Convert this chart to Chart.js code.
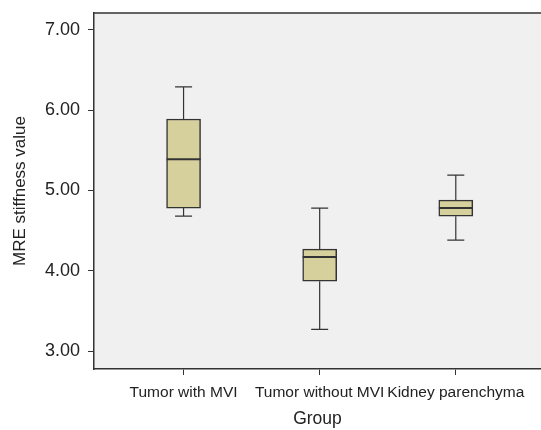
<!DOCTYPE html>
<html>
<head>
<meta charset="utf-8">
<script src="https://cdn.jsdelivr.net/npm/chart.js@4"></script>
<style>
  html, body { margin: 0; padding: 0; background: #fff; overflow: hidden; }
</style>
</head>
<body>
<canvas id="boxChart" width="541" height="430"></canvas>
<script>
// box plot values
var groups = ["Tumor with MVI", "Tumor without MVI", "Kidney parenchyma"];
var positions = [1, 2, 3];
var mins = [4.68, 3.27, 4.38];
var q1s = [4.78, 3.87, 4.68];
var medians = [5.39, 4.17, 4.78];
var q3s = [5.89, 4.27, 4.88];
var maxs = [6.29, 4.78, 5.19];
var yTicks = [3, 4, 5, 6, 7];

var lineColor = "#333333";
var fontFamily = "'Liberation Sans', Arial, sans-serif";

// plot background + top border
var frame = {
  id: "frame",
  beforeDraw: function(chart) {
    var a = chart.chartArea, c = chart.ctx;
    c.save();
    c.fillStyle = "#f0f0f0";
    c.fillRect(a.left, a.top, a.right - a.left, a.bottom - a.top);
    c.restore();
  },
  afterDraw: function(chart) {
    var a = chart.chartArea, c = chart.ctx;
    c.save();
    c.strokeStyle = lineColor;
    c.lineWidth = 1.5;
    c.beginPath();
    c.moveTo(a.left, a.top);
    c.lineTo(a.right, a.top);
    c.stroke();
    c.restore();
  }
};

// whiskers and medians
var whiskers = {
  id: "whiskers",
  afterDatasetsDraw: function(chart) {
    var xs = chart.scales.x, ys = chart.scales.y, c = chart.ctx;
    c.save();
    c.strokeStyle = lineColor;
    for (var i = 0; i < groups.length; i++) {
      var x = xs.getPixelForValue(positions[i]);
      var capHalf = 8.5, boxHalf = 17;
      c.lineWidth = 1.2;
      c.beginPath();
      c.moveTo(x, ys.getPixelForValue(q3s[i]));
      c.lineTo(x, ys.getPixelForValue(maxs[i]));
      c.moveTo(x, ys.getPixelForValue(q1s[i]));
      c.lineTo(x, ys.getPixelForValue(mins[i]));
      c.moveTo(x - capHalf, ys.getPixelForValue(maxs[i]));
      c.lineTo(x + capHalf, ys.getPixelForValue(maxs[i]));
      c.moveTo(x - capHalf, ys.getPixelForValue(mins[i]));
      c.lineTo(x + capHalf, ys.getPixelForValue(mins[i]));
      c.stroke();
      c.lineWidth = 2;
      c.beginPath();
      c.moveTo(x - boxHalf, ys.getPixelForValue(medians[i]));
      c.lineTo(x + boxHalf, ys.getPixelForValue(medians[i]));
      c.stroke();
    }
    c.restore();
  }
};

var boxes = groups.map(function(g, i) {
  return { x: positions[i], y: [q1s[i], q3s[i]] };
});

new Chart(document.getElementById("boxChart"), {
  type: "bar",
  data: {
    datasets: [{
      data: boxes,
      backgroundColor: "#d6d19c",
      borderColor: lineColor,
      borderWidth: 1.5,
      borderSkipped: false,
      barThickness: 34
    }]
  },
  options: {
    responsive: false,
    animation: false,
    layout: { padding: { top: 13, right: 0, left: 0, bottom: 0 } },
    plugins: { legend: { display: false }, tooltip: { enabled: false } },
    scales: {
      x: {
        type: "linear",
        offset: false,
        min: 0.342,
        max: 3.626,
        afterBuildTicks: function(scale) {
          scale.ticks = positions.map(function(p) { return { value: p }; });
        },
        afterFit: function(scale) {
          scale.height = 61;
          scale.paddingLeft = 0;
          scale.paddingRight = 0;
        },
        ticks: {
          callback: function(v) { return groups[positions.indexOf(v)]; },
          color: "#222",
          font: { family: fontFamily, size: 15.5 },
          padding: 8,
          maxRotation: 0,
          autoSkip: false
        },
        grid: { offset: false, drawOnChartArea: false, drawTicks: true, tickLength: 6, color: lineColor, lineWidth: 1 },
        border: { display: true, color: lineColor, width: 1.5 },
        title: {
          display: true,
          text: "Group",
          color: "#222",
          font: { family: fontFamily, size: 17.5 },
          padding: { top: 0, bottom: 0 }
        }
      },
      y: {
        min: 2.776,
        max: 7.21,
        afterBuildTicks: function(scale) {
          scale.ticks = yTicks.map(function(v) { return { value: v }; });
        },
        afterFit: function(scale) {
          scale.width = 94;
          scale.paddingTop = 0;
          scale.paddingBottom = 0;
        },
        ticks: {
          callback: function(v) { return v.toFixed(2); },
          color: "#222",
          font: { family: fontFamily, size: 18 },
          padding: 8
        },
        grid: { drawOnChartArea: false, drawTicks: true, tickLength: 6, color: lineColor, lineWidth: 1 },
        border: { display: true, color: lineColor, width: 1.5 },
        title: {
          display: true,
          text: "MRE stiffness value",
          color: "#222",
          font: { family: fontFamily, size: 17 },
          padding: { top: 10, bottom: 0 }
        }
      }
    }
  },
  plugins: [frame, whiskers]
});
</script>
</body>
</html>
